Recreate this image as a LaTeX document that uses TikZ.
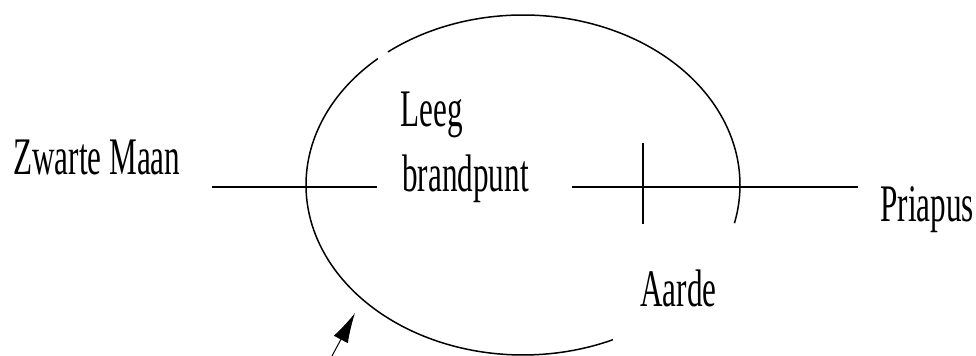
\documentclass[tikz,border=0pt]{standalone}
\usepackage{fontspec}
\newfontfamily\orbitfont[FakeStretch=0.59]{Liberation Serif}
\usetikzlibrary{arrows.meta,positioning,calc}

\begin{document}
\begin{tikzpicture}[x=0.5pt,y=-0.5pt,
  lbl/.style={inner sep=0pt,anchor=base west,font=\orbitfont\fontsize{26.4}{30}\selectfont},
  axisline/.style={line width=1.2pt},
  orbit/.style={line width=0.75pt}]
\useasboundingbox (0,0) rectangle (976,356);
% labels
\node[lbl] (zm) at (13,175) {Zwarte Maan};
\node[lbl] (leeg) at (400,127) {Leeg};
\node[lbl] (bp) at (402,192) {brandpunt};
\node[lbl] (aarde) at (640,307) {Aarde};
\node[lbl] (pri) at (880,222) {Priapus};
% axis and earth mark
\coordinate (al) at (212,187);
\coordinate (ar) at (377,187);
\coordinate (bl) at (572,187);
\coordinate (br) at (858,187);
\coordinate (et) at (643,143);
\coordinate (eb) at (643,224);
\path[axisline]
(al) edge (ar)
(bl) edge (br)
;
\draw[line width=0.6pt] (et) -- (eb);
% orbit
\draw[orbit] plot[domain=65.5:228,samples=120] ({523+217*cos(\x)},{185+170*sin(\x)});
\draw[orbit] plot[domain=231.5:373,samples=120] ({523+217*cos(\x)},{185+170*sin(\x)});
% pointer
\coordinate (tail) at (332,356);
\coordinate (tip) at (355,313);
\draw[-{Latex[length=15pt,width=8pt]},line width=0.5pt] (tail) -- (tip);
\end{tikzpicture}
\end{document}
